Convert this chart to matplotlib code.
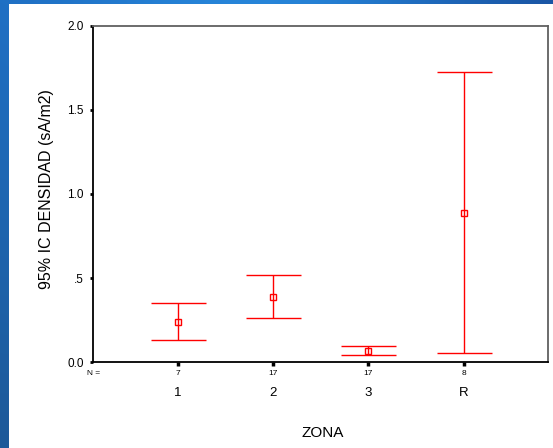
import matplotlib
matplotlib.use('Agg')
import matplotlib.pyplot as plt
from matplotlib.patches import Rectangle
import numpy as np

# Data ===========================================================================
zonas = ['1', '2', '3', 'R']
n_casos = [7, 17, 17, 8]
media = [0.242, 0.389, 0.070, 0.890]
ic_inf = [0.131, 0.262, 0.042, 0.056]
ic_sup = [0.354, 0.516, 0.098, 1.726]
y_ticks = [0.0, 0.5, 1.0, 1.5, 2.0]
y_labels = ['0.0', '.5', '1.0', '1.5', '2.0']
#=================================================================================

plt.rcParams['font.family'] = ['Liberation Sans', 'DejaVu Sans']

W, H = 553, 448
fig = plt.figure(figsize=(W / 100, H / 100), dpi=100, facecolor='#1e68b5')

# blue slide border: lighter gradient along the top, darker strip on the left
bg = fig.add_axes([0, 0, 1, 1], zorder=-20)
gx = np.linspace(0, 1, 200)
gy = np.linspace(0, 1, 100)[:, None, None]
top = np.array([0.12, 0.43, 0.76])
mid = np.array([0.15, 0.52, 0.85])
right = np.array([0.10, 0.33, 0.64])
low = np.array([0.11, 0.35, 0.60])
t_mid = np.exp(-((gx - 0.45) / 0.3) ** 2)[None, :, None]
t_right = np.clip((gx - 0.45) / 0.55, 0, 1)[None, :, None]
row = top + (mid - top) * t_mid + (right - top) * t_right * (1 - t_mid)
img = row * (1 - gy) + low * gy
bg.imshow(img, aspect='auto', extent=[0, 1, 0, 1], origin='upper')
bg.add_patch(Rectangle((8.5 / W, 0), 1 - 8.5 / W, 1 - 4 / H, facecolor='white', edgecolor='none'))
bg.set_xlim(0, 1)
bg.set_ylim(0, 1)
bg.axis('off')

ax = fig.add_axes([93.3 / W, (H - 362.3) / H, (547.7 - 93.3) / W, (362.3 - 25.7) / H])
ax.set_facecolor('white')

x = np.arange(1, len(zonas) + 1)
media = np.array(media)
err = [media - np.array(ic_inf), np.array(ic_sup) - media]
ax.errorbar(x, media, yerr=err, fmt='s', color='#ff0000', ecolor='#ff0000',
            elinewidth=1, capsize=19.8, capthick=1, markersize=5,
            markerfacecolor='none', markeredgewidth=1, zorder=3)

ax.set_xlim(0.114, 4.88)
ax.set_ylim(0, 2.0)

ax.set_yticks(y_ticks)
ax.set_yticklabels(y_labels, fontsize=8.5)
ax.tick_params(axis='y', direction='out', length=2, width=2, pad=5)

ax.set_xticks(x)
ax.set_xticklabels([])
ax.tick_params(axis='x', direction='out', length=3, width=2.5)

# N values and zone labels below the axis
for xi, n, z in zip(x, n_casos, zonas):
    ax.text(xi, -0.066, str(n), ha='center', va='center', fontsize=6, clip_on=False)
    ax.text(xi, -0.182, z, ha='center', va='center', fontsize=9.5, clip_on=False)
ax.text(0.114, -0.066, 'N =', ha='center', va='center', fontsize=6, clip_on=False)

for s in ['left', 'bottom']:
    ax.spines[s].set_color('black')
    ax.spines[s].set_linewidth(1.3)
for s in ['top', 'right']:
    ax.spines[s].set_color('#606060')
    ax.spines[s].set_linewidth(1.3)

fig.text(47 / W, 1 - 189 / H, '95% IC DENSIDAD (sA/m2)', rotation=90,
         ha='center', va='center', fontsize=11.5)
fig.text(322.5 / W, 1 - 432.5 / H, 'ZONA', ha='center', va='center', fontsize=11)

plt.savefig('out.png', dpi=100, facecolor=fig.get_facecolor())
